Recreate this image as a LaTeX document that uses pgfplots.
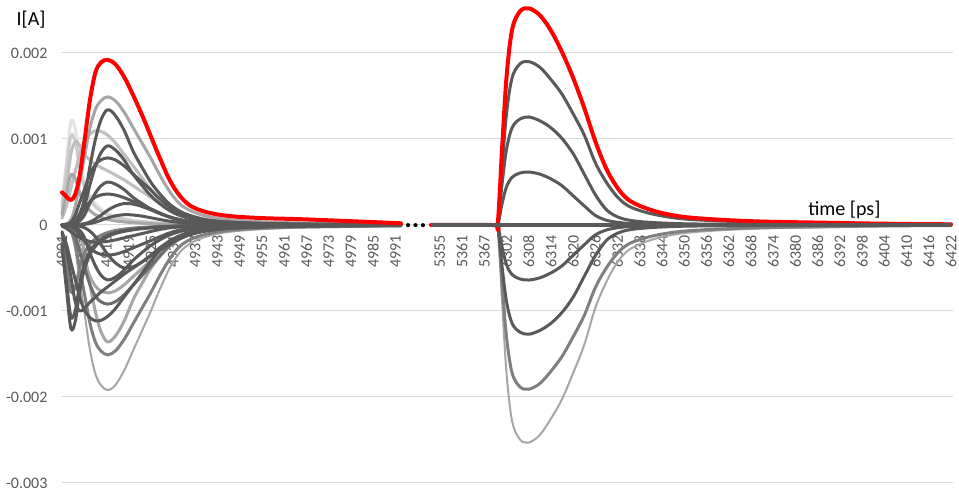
\documentclass[border=0pt]{standalone}
\usepackage{pgfplots}
\usepackage{pgfplotstable}
\pgfplotsset{compat=1.18}
\usepackage{fontspec}
\setmainfont{Carlito}
\definecolor{dk}{HTML}{595959}
\definecolor{md}{HTML}{7F7F7F}
\definecolor{mdd}{HTML}{6E6E6E}
\definecolor{lt}{HTML}{A6A6A6}
\definecolor{lt2}{HTML}{BFBFBF}
\definecolor{lt3}{HTML}{CCCCCC}
\definecolor{lt4}{HTML}{E3E3E3}
\definecolor{gridc}{HTML}{D9D9D9}
\definecolor{xred}{HTML}{FF0000}
\pgfplotsset{cv/.style={smooth, tension=0.55, line join=round, line cap=round, line width=3pt}}

\pgfplotstableread{
n a1 a2 a3 a4 a5 a6 a7 a8 a9 a10 a11 a12 a13 a14 a15 a16 a17 a18 a19 a20 a21 a22 a23 a24 a25 a26 a27 r
0 0.000248 0.000214 0.000146 0.00012 0 0.000077 0 0 0 0 0 -0.00016 0 0 0 0 0 0 0 -0.000078 0 0 0 -0.000248 -0.00022 -0.0001 -0.000014 0.00038
0.2 0.000744 0.000642 0.000437 0.00036 0.000015 0.00022 -0.000019 0 -0.000008 -0.000015 -0.000009 -0.00048 0 0 0.000008 0 0.000004 0 0 -0.000224 0 0 -0.000004 -0.000744 -0.00066 -0.0003 -0.00004 0.00033
0.4 0.001203 0.001038 0.000825 0.000582 0.00006 0.000429 -0.000077 -0.000014 -0.000032 -0.00006 -0.000037 -0.000776 0.000013 0.000009 0.000031 0.000005 0.000014 0 0 -0.000437 -0.000006 0 -0.000014 -0.001203 -0.001067 -0.0006 -0.000078 0.00029
0.6 0.001116 0.000963 0.00097 0.00054 0.000224 0.000627 -0.000288 -0.000054 -0.000119 -0.000227 -0.000138 -0.00072 0.000054 0.000037 0.000117 0.00002 0.000054 0.000003 0.000001 -0.000638 -0.000026 -0.000005 -0.000053 -0.001116 -0.00099 -0.0009 -0.000114 0.00036
0.8 0.000769 0.000663 0.000922 0.000372 0.000507 0.000825 -0.000653 -0.000136 -0.000269 -0.000513 -0.000313 -0.000496 0.000134 0.000092 0.000265 0.00005 0.000122 0.000008 0.000004 -0.00084 -0.000064 -0.000015 -0.000119 -0.000769 -0.000682 -0.001 -0.00015 0.00058
1.0 0.000521 0.000449 0.000825 0.000252 0.000775 0.000968 -0.000998 -0.000299 -0.000411 -0.000785 -0.000478 -0.000336 0.000295 0.000202 0.000406 0.00011 0.000187 0.000015 0.000007 -0.000986 -0.000141 -0.00003 -0.000182 -0.000521 -0.000462 -0.00097 -0.000176 0.00095
1.25 0.000347 0.0003 0.000757 0.000168 0.001118 0.001056 -0.00144 -0.00068 -0.000593 -0.001133 -0.00069 -0.000224 0.00067 0.00046 0.000585 0.00025 0.00027 0.000035 0.000017 -0.001075 -0.00032 -0.00007 -0.000263 -0.000347 -0.000308 -0.0009 -0.000192 0.00144
1.5 0.000248 0.000214 0.000708 0.00012 0.001341 0.001095 -0.001728 -0.001006 -0.000711 -0.001359 -0.000828 -0.00016 0.000992 0.000681 0.000702 0.00037 0.000324 0.000068 0.000032 -0.001114 -0.000474 -0.000135 -0.000315 -0.000248 -0.00022 -0.00084 -0.000199 0.00177
1.75 0.000186 0.000161 0.000669 0.00009 0.001445 0.001089 -0.001862 -0.001238 -0.000766 -0.001465 -0.000892 -0.00012 0.001219 0.000837 0.000757 0.000455 0.000349 0.000113 0.000054 -0.001109 -0.000582 -0.000225 -0.00034 -0.000186 -0.000165 -0.00078 -0.000198 0.00189
2.05 0.000136 0.000118 0.000631 0.000066 0.00149 0.001045 -0.00192 -0.00136 -0.00079 -0.00151 -0.00092 -0.000088 0.00134 0.00092 0.00078 0.0005 0.00036 0.00017 0.000082 -0.001064 -0.00064 -0.00034 -0.00035 -0.000136 -0.000121 -0.00072 -0.00019 0.00192
2.4 0.000099 0.000086 0.000582 0.000048 0.001445 0.000957 -0.001862 -0.001292 -0.000766 -0.001465 -0.000892 -0.000064 0.001273 0.000874 0.000757 0.000475 0.000349 0.00022 0.000106 -0.000974 -0.000608 -0.00044 -0.00034 -0.000099 -0.000088 -0.00065 -0.000174 0.00187
2.8 0.000074 0.000064 0.000524 0.000036 0.001311 0.00082 -0.00169 -0.001115 -0.000695 -0.001329 -0.00081 -0.000048 0.001099 0.000754 0.000686 0.00041 0.000317 0.00025 0.00012 -0.000834 -0.000525 -0.0005 -0.000308 -0.000074 -0.000066 -0.00057 -0.000149 0.00172
3.2 0.000056 0.000048 0.000456 0.000027 0.001132 0.000688 -0.001459 -0.00087 -0.0006 -0.001148 -0.000699 -0.000036 0.000858 0.000589 0.000593 0.00032 0.000274 0.000243 0.000116 -0.0007 -0.00041 -0.000485 -0.000266 -0.000056 -0.00005 -0.0005 -0.000125 0.00151
3.6 0.000043 0.000037 0.000388 0.000021 0.000954 0.00055 -0.001229 -0.00068 -0.000506 -0.000966 -0.000589 -0.000028 0.00067 0.00046 0.000499 0.00025 0.00023 0.000215 0.000103 -0.00056 -0.00032 -0.00043 -0.000224 -0.000043 -0.000039 -0.00043 -0.0001 0.00128
4.0 0.000033 0.000029 0.00032 0.000016 0.000775 0.000413 -0.000998 -0.000503 -0.000411 -0.000785 -0.000478 -0.000022 0.000496 0.00034 0.000406 0.000185 0.000187 0.000175 0.000084 -0.00042 -0.000237 -0.00035 -0.000182 -0.000033 -0.00003 -0.00036 -0.000075 0.00103
4.4 0.000025 0.000021 0.000252 0.000012 0.000581 0.000286 -0.000749 -0.000367 -0.000308 -0.000589 -0.000359 -0.000016 0.000362 0.000248 0.000304 0.000135 0.00014 0.000133 0.000064 -0.000291 -0.000173 -0.000265 -0.000137 -0.000025 -0.000022 -0.00029 -0.000052 0.00078
4.85 0.000019 0.000016 0.000194 0.000009 0.000387 0.000182 -0.000499 -0.000245 -0.000205 -0.000393 -0.000239 -0.000012 0.000241 0.000166 0.000203 0.00009 0.000094 0.000093 0.000044 -0.000185 -0.000115 -0.000185 -0.000091 -0.000019 -0.000017 -0.00022 -0.000033 0.00052
5.3 0.000014 0.000012 0.000146 0.000007 0.000246 0.000127 -0.000317 -0.000163 -0.00013 -0.000249 -0.000152 -0.000009 0.000161 0.00011 0.000129 0.00006 0.000059 0.000063 0.00003 -0.000129 -0.000077 -0.000125 -0.000058 -0.000014 -0.000012 -0.00016 -0.000023 0.00034
5.8 0.00001 0.000009 0.000107 0.000005 0.000164 0.000088 -0.000211 -0.000109 -0.000087 -0.000166 -0.000101 -0.000006 0.000107 0.000074 0.000086 0.00004 0.00004 0.00004 0.000019 -0.00009 -0.000051 -0.00008 -0.000039 -0.00001 -0.000009 -0.00011 -0.000016 0.00022
6.5 0.000006 0.000005 0.000068 0.000003 0.000104 0.000061 -0.000134 -0.000061 -0.000055 -0.000106 -0.000064 -0.000004 0.00006 0.000041 0.000055 0.000023 0.000025 0.000025 0.000012 -0.000062 -0.000029 -0.00005 -0.000025 -0.000006 -0.000006 -0.00007 -0.000011 0.00015
7.5 0.000004 0.000003 0.000041 0.000002 0.000063 0.000039 -0.000081 -0.000034 -0.000033 -0.000063 -0.000039 -0.000002 0.000034 0.000023 0.000033 0.000013 0.000015 0.000015 0.000007 -0.000039 -0.000016 -0.00003 -0.000015 -0.000004 -0.000003 -0.00004 -0.000007 0.000105
9 0.000002 0.000002 0.000024 0.000001 0.000037 0.000022 -0.000048 -0.000018 -0.00002 -0.000038 -0.000023 -0.000002 0.000017 0.000012 0.00002 0.000007 0.000009 0.000009 0.000004 -0.000022 -0.000008 -0.000018 -0.000009 -0.000002 -0.000002 -0.00002 -0.000004 0.00008
11 0.000001 0.000001 0.000014 0.000001 0.000022 0.000014 -0.000029 -0.00001 -0.000012 -0.000023 -0.000014 -0.000001 0.000009 0.000006 0.000012 0.000004 0.000005 0.000005 0.000002 -0.000015 -0.000004 -0.00001 -0.000005 -0.000001 -0.000001 -0.00001 -0.000003 0.000065
15.25 0 0 0.000004 0 0.000009 0.000006 -0.000012 -0.000003 -0.000005 -0.000009 -0.000006 0 0.000003 0.000002 0.000005 0.000001 0.000002 0.000002 0.000001 -0.000006 -0.000001 -0.000003 -0.000002 0 0 -0.000002 -0.000001 0.00002
}\lefttab

\pgfplotstableread{
n r q1 q2 q3 q4 q5 q6 q7
16.6 0 0 0 0 0 0 0 0
19.4 0 0 0 0 0 0 0 0
19.6 0 0 0 0 0 0 0 0
19.8 0.000882 0.000665 0.000477 0.000246 -0.000256 -0.000483 -0.000669 -0.000886
20.0 0.001714 0.001292 0.000879 0.000444 -0.000461 -0.000889 -0.001299 -0.00172
20.25 0.002268 0.00171 0.00113 0.000554 -0.000576 -0.001143 -0.001719 -0.002277
20.6 0.002482 0.001872 0.001231 0.000604 -0.000627 -0.001245 -0.001881 -0.002492
21.0 0.00252 0.0019 0.001256 0.000616 -0.00064 -0.00127 -0.00191 -0.00253
21.5 0.002440 0.001834 0.001212 0.000591 -0.000614 -0.001226 -0.001843 -0.002441
22.0 0.002260 0.001691 0.00113 0.000536 -0.000557 -0.001143 -0.0017 -0.002252
22.5 0.002010 0.00152 0.001005 0.000456 -0.000474 -0.001016 -0.001528 -0.002024
23.0 0.001710 0.001292 0.000829 0.000339 -0.000352 -0.000838 -0.001299 -0.00172
23.5 0.001360 0.001045 0.00059 0.000222 -0.00023 -0.000597 -0.001051 -0.001392
24.0 0.000970 0.000722 0.000352 0.000111 -0.000115 -0.000356 -0.000726 -0.000961
24.5 0.000650 0.000494 0.000176 0.000055 -0.000058 -0.000178 -0.000497 -0.000658
25.0 0.000430 0.000323 0.000094 0.000031 -0.000032 -0.000095 -0.000325 -0.00043
25.5 0.00029 0.000219 0.000057 0.000018 -0.000019 -0.000057 -0.00022 -0.000291
26.2 0.000202 0.000152 0.000035 0.000012 -0.000013 -0.000036 -0.000153 -0.000202
27 0.000139 0.000105 0.000023 0.000008 -0.000008 -0.000023 -0.000105 -0.000139
28 0.000093 0.00007 0.000014 0.000005 -0.000005 -0.000014 -0.000071 -0.000094
29.5 0.000063 0.000048 0.000009 0.000003 -0.000003 -0.000009 -0.000048 -0.000063
31.5 0.00004 0.00003 0.000005 0.000002 -0.000002 -0.000005 -0.000031 -0.00004
34 0.000028 0.000021 0.000004 0.000001 -0.000001 -0.000004 -0.000021 -0.000028
37 0.000015 0.000011 0.000003 0.000001 -0.000001 -0.000003 -0.000011 -0.000015
40 0.000008 0.000006 0.000001 0 0 -0.000001 -0.000006 -0.000008
}\righttab

\begin{document}
\begin{tikzpicture}
\begin{axis}[
  name=ax,
  scale only axis,
  width=891pt, height=483pt,
  xmin=0, xmax=40.09,
  ymin=-0.003, ymax=0.0026163,
  axis x line=middle, axis y line=left,
  hide obscured x ticks=false, hide obscured y ticks=false,
  x axis line style={draw=none, -},
  y axis line style={draw=none, -},
  xtick={0,1,2,3,4,5,6,7,8,9,10,11,12,13,14,15,17,18,19,20,21,22,23,24,25,26,27,28,29,30,31,32,33,34,35,36,37,38,39,40},
  xticklabels={4901,4907,4913,4919,4925,4931,4937,4943,4949,4955,4961,4967,4973,4979,4985,4991,5355,5361,5367,6302,6308,6314,6320,6326,6332,6338,6344,6350,6356,6362,6368,6374,6380,6386,6392,6398,6404,6410,6416,6422},
  ytick={-0.003,-0.002,-0.001,0,0.001,0.002},
  yticklabels={-0.003,-0.002,-0.001,0,0.001,0.002},
  scaled y ticks=false,
  ymajorgrids,
  major grid style={draw=gridc, line width=1pt},
  tick style={draw=none},
  major tick length=0pt,
  xticklabel style={yshift=-7pt, rotate=90, anchor=east, font=\fontsize{16}{16}\selectfont, text=dk},
  yticklabel style={xshift=-11pt, font=\fontsize{16}{16}\selectfont, text=dk},
  clip=false,
]
% light curves (left)
\addplot[cv, lt4] table[x=n,y=a1]{\lefttab};
\addplot[cv, lt3] table[x=n,y=a2]{\lefttab};
\addplot[cv, lt2] table[x=n,y=a6]{\lefttab};
\addplot[cv, lt2] table[x=n,y=a3]{\lefttab};
\addplot[cv, lt] table[x=n,y=a4]{\lefttab};
\addplot[cv, lt] table[x=n,y=a5]{\lefttab};
\addplot[cv, lt] table[x=n,y=a9]{\lefttab};
\addplot[cv, lt] table[x=n,y=a8]{\lefttab};
\addplot[cv, lt, line width=2pt] table[x=n,y=a7]{\lefttab};
\addplot[cv, md] table[x=n,y=a10]{\lefttab};
\addplot[cv, md] table[x=n,y=a12]{\lefttab};
\addplot[cv, mdd] table[x=n,y=a11]{\lefttab};
% dark curves (left)
\addplot[cv, dk] table[x=n,y=a13]{\lefttab};
\addplot[cv, dk] table[x=n,y=a14]{\lefttab};
\addplot[cv, dk] table[x=n,y=a15]{\lefttab};
\addplot[cv, dk] table[x=n,y=a16]{\lefttab};
\addplot[cv, dk] table[x=n,y=a17]{\lefttab};
\addplot[cv, dk] table[x=n,y=a18]{\lefttab};
\addplot[cv, dk] table[x=n,y=a19]{\lefttab};
\addplot[cv, dk] table[x=n,y=a20]{\lefttab};
\addplot[cv, dk] table[x=n,y=a21]{\lefttab};
\addplot[cv, dk] table[x=n,y=a22]{\lefttab};
\addplot[cv, dk] table[x=n,y=a23]{\lefttab};
\addplot[cv, dk] table[x=n,y=a24]{\lefttab};
\addplot[cv, dk] table[x=n,y=a25]{\lefttab};
\addplot[cv, dk] table[x=n,y=a26]{\lefttab};
\addplot[cv, dk] table[x=n,y=a27]{\lefttab};
% right section
\addplot[cv, lt, line width=2pt] table[x=n,y=q7]{\righttab};
\addplot[cv, md] table[x=n,y=q6]{\righttab};
\addplot[cv, dk] table[x=n,y=q5]{\righttab};
\addplot[cv, dk] table[x=n,y=q4]{\righttab};
\addplot[cv, dk] table[x=n,y=q3]{\righttab};
\addplot[cv, dk] table[x=n,y=q2]{\righttab};
\addplot[cv, dk] table[x=n,y=q1]{\righttab};
% red series
\addplot[cv, xred, line width=4pt] table[x=n,y=r]{\lefttab};
\addplot[cv, xred, line width=4pt] table[x=n,y=r]{\righttab};
% flat series in right section
\addplot[dk, line width=4pt] coordinates {(16.6,0) (40,0)};
% annotations
\node[font=\fontsize{20}{20}\selectfont] at (axis description cs:-0.0347,0.9586) {I[A]};
\node[font=\fontsize{20}{20}\selectfont] at (axis cs:35.2,0.000174) {time [ps]};
\node[font=\fontsize{28}{28}\selectfont\bfseries, anchor=base, inner sep=0pt] at (axis cs:15.915,-0.0000267) {...};
\end{axis}
\pgfresetboundingbox
\path[use as bounding box] ([xshift=-62pt,yshift=-12pt]ax.south west) rectangle ([xshift=6pt]ax.north east);
\end{tikzpicture}
\end{document}
